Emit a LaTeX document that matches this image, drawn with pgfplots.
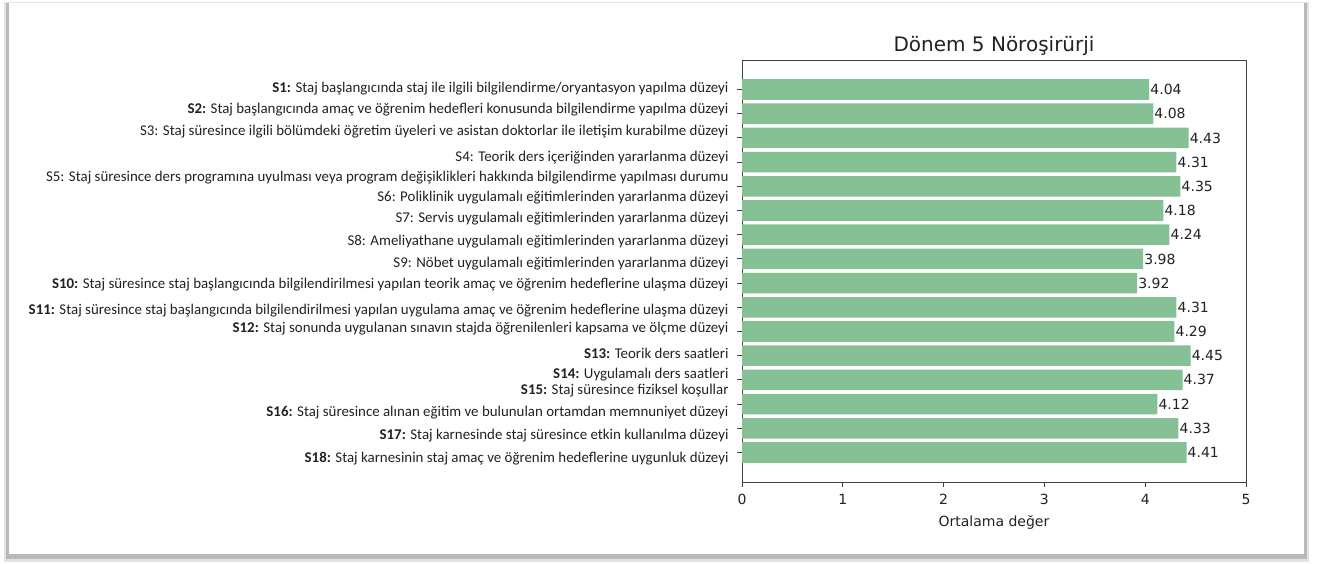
\documentclass[border=0pt]{standalone}
\usepackage{pgfplots}
\pgfplotsset{compat=1.18}
\usepackage{pgfplotstable}
\usepackage{fontspec}
\setmainfont{DejaVu Sans}
\newfontfamily\calfont{Carlito}
\definecolor{barg}{RGB}{133,193,148}
\definecolor{txt}{RGB}{34,34,34}
\pgfplotstableread{
i v
0 4.04
1 4.08
2 4.43
3 4.31
4 4.35
5 4.18
6 4.24
7 3.98
8 3.92
9 4.31
10 4.29
11 4.45
12 4.37
13 4.12
14 4.33
15 4.41
}\datatab
\begin{document}
\begin{tikzpicture}
\path (0,0) rectangle (660.5pt,281.5pt);
% frame with shadow
\fill[gray!22] (2pt,0.5pt) rectangle (654.5pt,280.5pt);
\fill[gray!55] (2.8pt,1.8pt) rectangle (653.6pt,280pt);
\fill[white] (4.5pt,4.5pt) rectangle (651.8pt,280.3pt);
\draw[gray!20, line width=0.5pt] (4.5pt,280.3pt) -- (651.8pt,280.3pt);
\begin{axis}[
  at={(371pt,40.5pt)}, anchor=south west,
  scale only axis, width=252pt, height=211pt,
  xbar, bar width=0.85,
  xmin=0, xmax=5, ymin=-1.22, ymax=16.22,
  y dir=reverse,
  ytick={0,...,15}, yticklabels={},
  xtick={0,...,5},
  tick align=outside, xtick pos=bottom, ytick pos=left,
  major tick length=2.5pt,
  tick style={color=black!75, line width=0.5pt},
  axis line style={black!75, line width=0.5pt},
  ticklabel style={font=\fontsize{7}{8}\selectfont, text=txt},
  /pgf/number format/assume math mode=true,
  xlabel={Ortalama değer},
  xlabel style={font=\fontsize{7}{8}\selectfont, text=txt, at={(axis description cs:0.5,-0.095)}, anchor=center},
  title={Dönem 5 Nöroşirürji},
  title style={font=\fontsize{10}{12}\selectfont, text=txt, at={(axis description cs:0.5,1)}, anchor=base, yshift=-1.5pt},
  nodes near coords,
  point meta=explicit symbolic,
  nodes near coords style={font=\fontsize{7}{8}\selectfont, text=txt, anchor=west, inner sep=0.4pt},
  clip=false,
]
\addplot[fill=barg, draw=none] table[x=v, y=i, meta=v] {\datatab};
\tikzset{lab/.style={anchor=east, font=\calfont\fontsize{7.45}{9}\selectfont, text=txt, inner sep=0pt}}
\node[lab] at (axis cs:-0.13,-0.04) {\textbf{S1:} Staj başlangıcında staj ile ilgili bilgilendirme/oryantasyon yapılma düzeyi};
\node[lab] at (axis cs:-0.13,0.83) {\textbf{S2:} Staj başlangıcında amaç ve öğrenim hedefleri konusunda bilgilendirme yapılma düzeyi};
\node[lab] at (axis cs:-0.13,1.74) {S3: Staj süresince ilgili bölümdeki öğretim üyeleri ve asistan doktorlar ile iletişim kurabilme düzeyi};
\node[lab] at (axis cs:-0.13,2.81) {S4: Teorik ders içeriğinden yararlanma düzeyi};
\node[lab] at (axis cs:-0.13,3.64) {S5: Staj süresince ders programına uyulması veya program değişiklikleri hakkında bilgilendirme yapılması durumu};
\node[lab] at (axis cs:-0.13,4.46) {S6: Poliklinik uygulamalı eğitimlerinden yararlanma düzeyi};
\node[lab] at (axis cs:-0.13,5.33) {S7: Servis uygulamalı eğitimlerinden yararlanma düzeyi};
\node[lab] at (axis cs:-0.13,6.28) {S8: Ameliyathane uygulamalı eğitimlerinden yararlanma düzeyi};
\node[lab] at (axis cs:-0.13,7.19) {S9: Nöbet uygulamalı eğitimlerinden yararlanma düzeyi};
\node[lab] at (axis cs:-0.13,8.06) {\textbf{S10:} Staj süresince staj başlangıcında bilgilendirilmesi yapılan teorik amaç ve öğrenim hedeflerine ulaşma düzeyi};
\node[lab] at (axis cs:-0.13,9.13) {\textbf{S11:} Staj süresince staj başlangıcında bilgilendirilmesi yapılan uygulama amaç ve öğrenim hedeflerine ulaşma düzeyi};
\node[lab] at (axis cs:-0.13,9.88) {\textbf{S12:} Staj sonunda uygulanan sınavın stajda öğrenilenleri kapsama ve ölçme düzeyi};
\node[lab] at (axis cs:-0.13,10.91) {\textbf{S13:} Teorik ders saatleri};
\node[lab] at (axis cs:-0.13,11.78) {\textbf{S14:} Uygulamalı ders saatleri};
\node[lab] at (axis cs:-0.13,12.44) {\textbf{S15:} Staj süresince fiziksel koşullar};
\node[lab] at (axis cs:-0.13,13.35) {\textbf{S16:} Staj süresince alınan eğitim ve bulunulan ortamdan memnuniyet düzeyi};
\node[lab] at (axis cs:-0.13,14.30) {\textbf{S17:} Staj karnesinde staj süresince etkin kullanılma düzeyi};
\node[lab] at (axis cs:-0.13,15.25) {\textbf{S18:} Staj karnesinin staj amaç ve öğrenim hedeflerine uygunluk düzeyi};
\end{axis}
\end{tikzpicture}
\end{document}
